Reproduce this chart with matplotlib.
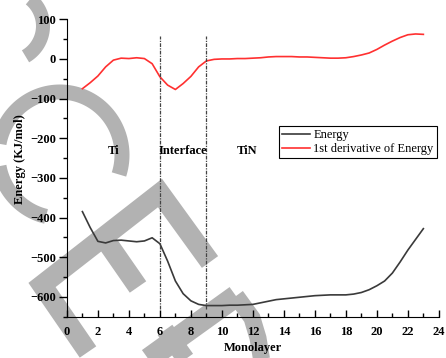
import numpy as np
import matplotlib
matplotlib.use("Agg")
import matplotlib.pyplot as plt
from matplotlib.ticker import MultipleLocator
from matplotlib.lines import Line2D

plt.rcParams['font.family'] = 'serif'
plt.rcParams['font.serif'] = ['Liberation Serif', 'DejaVu Serif']

# data
monolayer = [1, 1.5, 2, 2.5, 3, 3.5, 4, 4.5, 5, 5.5, 6, 6.5, 7, 7.5, 8, 8.5, 9, 9.5,
             10, 10.5, 11, 11.5, 12, 12.5, 13, 13.5, 14, 14.5, 15, 15.5, 16, 16.5,
             17, 17.5, 18, 18.5, 19, 19.5, 20, 20.5, 21, 21.5, 22, 22.5, 23]
energy = [-385, -425, -460, -464, -458, -457, -459, -461, -459, -451, -466, -510,
          -560, -592, -610, -619, -622, -622, -622, -621, -621, -620, -619, -615,
          -611, -607, -605, -603, -601, -599, -597, -596, -595, -595, -595, -593,
          -589, -582, -572, -560, -540, -512, -482, -455, -428]
deriv = [-75, -60, -43, -20, -3, 2, 1, 3, 1, -12, -45, -66, -77, -62, -44, -20,
         -5, -1, 0, 0, 1, 1, 2, 3, 5, 6, 6, 6, 5, 5, 4, 3, 2, 2, 3, 6, 10, 15,
         24, 35, 45, 54, 61, 63, 62]
borders = [6, 9]
regions = ["Ti", "Interface", "TiN"]
region_x = [3.0, 7.5, 11.6]

fig = plt.figure(figsize=(4.46, 3.58), dpi=100)
ax = fig.add_axes([0.150, 0.1154, 0.834, 0.8307])
ax.set_facecolor('none')

ax.plot(monolayer, energy, color='#3a3a3a', lw=1.2, label='Energy')
ax.plot(monolayer, deriv, color='#ff3030', lw=1.2, label='1st derivative of Energy')
for b in borders:
    ax.plot([b, b], [-630, 57], color='#444444', lw=0.9, linestyle=(0, (3, 1, 1, 1)))

for name, xx in zip(regions, region_x):
    ax.text(xx, -231, name, ha='center', va='center', fontsize=9, fontweight='bold')

ax.set_xlim(0, 24)
ax.set_ylim(-650, 100)
ax.xaxis.set_major_locator(MultipleLocator(2))
ax.xaxis.set_minor_locator(MultipleLocator(1))
ax.yaxis.set_major_locator(MultipleLocator(100))
ax.yaxis.set_minor_locator(MultipleLocator(50))
ax.spines['top'].set_visible(False)
ax.spines['right'].set_visible(False)
ax.tick_params(axis='y', which='major', direction='out', length=6, width=1, pad=2, labelsize=9)
ax.tick_params(axis='y', which='minor', direction='out', length=3, width=1)
ax.tick_params(axis='x', which='major', direction='in', length=5, width=1, pad=7, labelsize=9)
ax.tick_params(axis='x', which='minor', direction='in', length=3, width=1)
for lbl in ax.get_xticklabels() + ax.get_yticklabels():
    lbl.set_fontweight('bold')

ax.set_xlabel('Monolayer', fontsize=9, fontweight='bold', va='top')
ax.xaxis.set_label_coords(0.5, -0.085)
ax.set_ylabel('Energy (KJ/mol)', fontsize=9, fontweight='bold')
ax.yaxis.set_label_coords(-0.11, 0.53)

leg = ax.legend(loc='upper right', bbox_to_anchor=(0.994, 0.64), borderaxespad=0,
                fontsize=9, fancybox=False, edgecolor='black', framealpha=1,
                borderpad=0.25, handlelength=2.2, handletextpad=0.3, labelspacing=0.15)
leg.get_frame().set_linewidth(0.8)


# watermark shapes behind the plot, in pixel coords of the picture
def wm(xs, ys, w):
    line = Line2D([x / 446 for x in xs], [1 - y / 358 for y in ys],
                  transform=fig.transFigure, color='#b2b2b2',
                  lw=w * 0.72, solid_capstyle='butt', solid_joinstyle='miter', zorder=-5)
    fig.add_artist(line)


t = np.radians(np.linspace(-62, 60, 60))
wm(8 + 35 * np.cos(t), 26 + 35 * np.sin(t), 14)
t = np.radians(np.linspace(103, 378, 120))
wm(60 + 62 * np.cos(t), 155 + 63 * np.sin(t), 15)
wm([88, 42, 160, 210], [352, 285, 193, 262], 20)
wm([104, 138], [238, 287], 20)
wm([140, 236], [365, 296], 22)
wm([236, 252, 258, 262], [296, 318, 338, 362], 17)
wm([165, 190], [330, 365], 18)

fig.savefig('out.png', dpi=100)
